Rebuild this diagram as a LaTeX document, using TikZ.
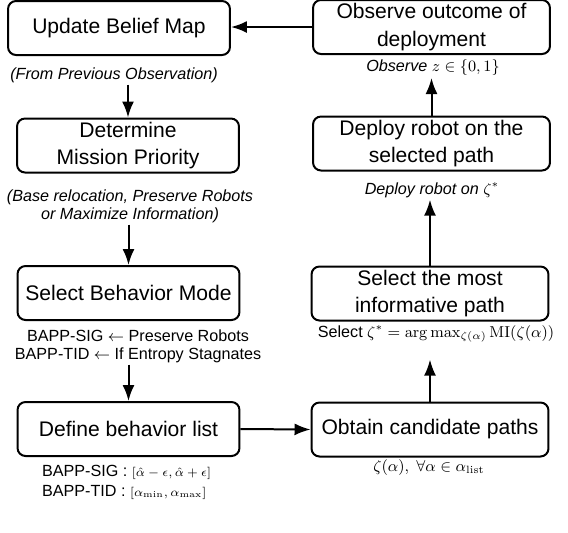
\documentclass[tikz,border=0pt]{standalone}
\usepackage{amsmath}
\usepackage[no-math]{fontspec}
\setmainfont{Liberation Sans}
\usetikzlibrary{positioning}
\usetikzlibrary{arrows.meta}

\begin{document}
\begin{tikzpicture}[x=0.02cm,y=-0.02cm,>={Latex[length=0.32cm,width=0.24cm]},
  box/.style={draw,line width=0.04cm,rounded corners=0.16cm,align=center,minimum width=#1,minimum height=1.08cm,inner sep=0pt,font=\fontsize{12}{15.5}\selectfont},
  box/.default=4.44cm,
  info/.style={align=center,inner sep=1pt,font=\fontsize{9.2}{10.2}\selectfont},
  note/.style={info,font=\fontsize{9.2}{10.2}\selectfont\itshape},
  arr/.style={->,line width=0.04cm}]

\useasboundingbox (0,0) rectangle (568,532);

\node[box] (upd) at (119,28) {Update Belief Map};
\node[box] (det) at (128,145.5) {Determine\\Mission Priority};
\node[box] (sel) at (128.5,293) {Select Behavior Mode};
\node[box] (dfn) at (128.5,429) {Define behavior list};

\node[box=4.74cm] (obs) at (431.5,27) {Observe outcome of\\deployment};
\node[box=4.74cm] (dep) at (431.5,143.5) {Deploy robot on the\\selected path};
\node[box=4.74cm] (pick) at (430,293.5) {Select the most\\informative path};
\node[box=4.74cm] (obt) at (430,429.5) {Obtain candidate paths};

\node[note] (prev) at (114,75) {(From Previous Observation)};
\node[note] (base) at (130,206) {(Base relocation, Preserve Robots\\or Maximize Information)};
\node[info] (modes) at (138,346) {BAPP-SIG $\leftarrow$ Preserve Robots\\BAPP-TID $\leftarrow$ If Entropy Stagnates};
\node[info,anchor=west] (lsig) at (40,472) {BAPP-SIG : {\fontsize{7.5}{9}\selectfont$[\hat\alpha-\epsilon,\hat\alpha+\epsilon]$}};
\node[info,anchor=west] (ltid) at (40,492) {BAPP-TID : {\fontsize{7.5}{9}\selectfont$[\alpha_{\min},\alpha_{\max}]$}};

\node[note] (obsl) at (433,68) {Observe $z\in\{0,1\}$};
\node[note] (depl) at (432,190) {Deploy robot on $\zeta^*$};
\node[info] (pickl) at (436,334) {Select $\zeta^*=\arg\max_{\zeta(\alpha)}\mathrm{MI}(\zeta(\alpha))$};
\node[info] (obtl) at (429,468) {$\zeta(\alpha),\ \forall\alpha\in\alpha_{\mathrm{list}}$};

\draw[arr] (obs.west) -- (obs.west -| upd.east);
\draw[arr] (prev.south -| det.north) -- (det.north);
\draw[arr] (base.south -| sel.north) -- (sel.north);
\draw[arr] (modes.south -| dfn.north) -- (dfn.north);
\draw[arr] (dfn.east) -- (obt.west);
\draw[arr,shorten >=0.3cm] (obt.north) -- (obt.north |- pickl.south);
\draw[arr] (pick.north) -- (pick.north |- depl.south);
\draw[arr] (dep.north) -- (dep.north |- obsl.south);
\end{tikzpicture}
\end{document}
